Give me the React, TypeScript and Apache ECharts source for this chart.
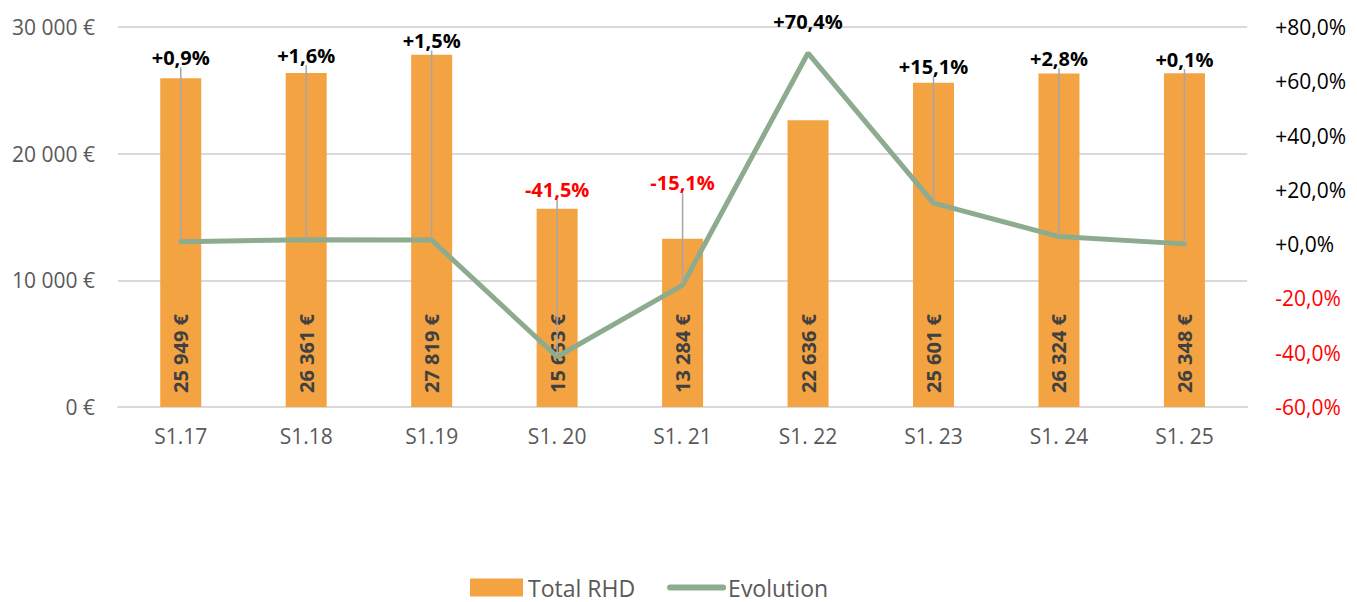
import React, { useEffect, useRef } from "react";
import * as echarts from "echarts";

const categories = ["S1.17", "S1.18", "S1.19", "S1. 20", "S1. 21", "S1. 22", "S1. 23", "S1. 24", "S1. 25"];
const totalRHD = [25949, 26361, 27819, 15653, 13284, 22636, 25601, 26324, 26348];
const evolution = [0.9, 1.6, 1.5, -41.5, -15.1, 70.4, 15.1, 2.8, 0.1];
// vertical gap (px) between bar top and the evolution label (style only)
const labelGap = [21, 18, 14, 19, 56, 0, 16, 15, 14];

const FONT = '"Open Sans", "Noto Sans", sans-serif';
const BAR = "#F4A343";
const LINE = "#8DAB8E";

const fmtEuro = (v: number) =>
  String(Math.round(v)).replace(/\B(?=(\d{3})+(?!\d))/g, " ") + " €";
const fmtPct = (v: number) =>
  (v >= 0 ? "+" : "") + v.toFixed(1).replace(".", ",") + "%";

export default function App() {
  const ref = useRef<HTMLDivElement>(null);
  useEffect(() => {
    if (!ref.current) return;
    const chart = echarts.init(ref.current, null, { renderer: "svg" });
    const option: any = {
      animation: false,
      textStyle: { fontFamily: FONT },
      grid: { left: 110, right: 94, top: 19, bottom: 195, containLabel: false },
      legend: {
        left: 462,
        top: 568,
        padding: 0,
        itemWidth: 53,
        itemHeight: 18,
        itemGap: 32,
        textStyle: { fontFamily: FONT, fontSize: 23, lineHeight: 22, color: "#595959" },
        data: [
          { name: "Total RHD", icon: "rect" },
          { name: "Evolution", itemStyle: { opacity: 0 }, lineStyle: { width: 6, cap: "round" } },
        ],
      },
      xAxis: {
        type: "category",
        data: categories,
        axisTick: { show: false },
        axisLine: { lineStyle: { color: "#D9D9D9", width: 2 } },
        axisLabel: { fontFamily: FONT, fontSize: 21, color: "#595959", margin: 18 },
      },
      yAxis: [
        {
          type: "value",
          min: 0,
          max: 30000,
          interval: 10000,
          axisLine: { show: false },
          axisTick: { show: false },
          splitLine: { lineStyle: { color: "#D9D9D9", width: 2 } },
          axisLabel: {
            fontFamily: FONT,
            fontSize: 21,
            color: "#595959",
            margin: 23,
            formatter: (v: number) => fmtEuro(v),
          },
        },
        {
          type: "value",
          min: -60,
          max: 80,
          interval: 20,
          position: "right",
          axisLine: { show: false },
          axisTick: { show: false },
          splitLine: { show: false },
          axisLabel: {
            fontFamily: FONT,
            fontSize: 21,
            margin: 28,
            color: (v: any) => (Number(v) < 0 ? "#FF0000" : "#000000"),
            formatter: (v: number) => fmtPct(v),
          },
        },
      ],
      series: [
        {
          name: "Total RHD",
          type: "bar",
          yAxisIndex: 0,
          barWidth: 41,
          itemStyle: { color: BAR },
          data: totalRHD,
          label: {
            show: true,
            position: "insideBottom",
            rotate: 90,
            distance: 14,
            align: "left",
            verticalAlign: "middle",
            fontFamily: FONT,
            fontSize: 20,
            fontWeight: "bold",
            color: "#404040",
            formatter: (p: any) => fmtEuro(p.value),
          },
        },
        {
          name: "Evolution",
          type: "line",
          yAxisIndex: 1,
          symbol: "circle",
          symbolSize: 1,
          showSymbol: true,
          itemStyle: { color: LINE },
          lineStyle: { color: LINE, width: 5, cap: "round" },
          data: evolution.map((v, i) => ({
            value: v,
            label: { color: v < 0 ? "#FF0000" : "#000000" },
            labelLine: { show: i !== 5 },
          })),
          label: {
            show: true,
            position: "top",
            distance: 20,
            fontFamily: FONT,
            fontSize: 20,
            fontWeight: "bold",
            formatter: (p: any) => fmtPct(p.value),
          },
          labelLine: { show: true, lineStyle: { color: "#A6A6A6", width: 1.5 } },
          labelLayout: (params: any) => {
            const i = params.dataIndex;
            const cx = params.rect.x + params.rect.width / 2;
            const cy = params.rect.y + params.rect.height / 2;
            if (i === 5) {
              return { x: cx, y: cy - 32, align: "center", verticalAlign: "middle" };
            }
            let top = NaN;
            try {
              top = chart.convertToPixel({ yAxisIndex: 0 } as any, totalRHD[i]) as any;
            } catch (e) {
              top = NaN;
            }
            if (typeof top !== "number" || isNaN(top)) top = 399 - (totalRHD[i] / 30000) * 380;
            return { x: cx, y: top - labelGap[i], align: "center", verticalAlign: "middle" };
          },
        },
      ],
    };
    chart.setOption(option);
    return () => chart.dispose();
  }, []);
  return <div ref={ref} style={{ width: 1341, height: 594 }} />;
}
